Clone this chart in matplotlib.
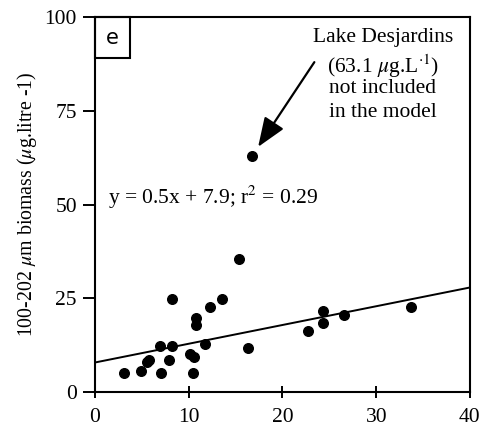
import matplotlib
matplotlib.use("Agg")
import matplotlib.pyplot as plt
from matplotlib.patches import Rectangle
import numpy as np

plt.rcParams['font.family'] = ['Liberation Serif', 'DejaVu Serif']
plt.rcParams['mathtext.fontset'] = 'stix'

# Lakes included in the regression
x_vals = [3.1, 4.9, 5.5, 5.8, 7.0, 6.9, 7.9, 8.2, 8.2, 10.1, 10.6, 10.4,
          10.8, 10.8, 11.7, 12.3, 13.5, 15.4, 16.3, 22.7, 24.3, 24.3, 26.6, 33.7]
y_vals = [5.0, 5.6, 7.9, 8.6, 5.0, 12.2, 8.6, 12.2, 24.9, 10.2, 9.3, 5.0,
          19.8, 18.0, 12.8, 22.8, 24.9, 35.4, 11.7, 16.4, 21.6, 18.4, 20.5, 22.7]

# Excluded lake
outlier_x = 16.8
outlier_y = 63.1

slope = 0.5
intercept = 7.9
r2 = 0.29

x_ticks = [0, 10, 20, 30, 40]
y_ticks = [0, 25, 50, 75, 100]

fig = plt.figure(figsize=(4.8, 4.29), dpi=100)
ax = fig.add_axes([0.198, 0.086, 0.781, 0.874])

ax.scatter(x_vals, y_vals, s=48, color='black', zorder=3)
ax.scatter([outlier_x], [outlier_y], s=48, color='black', zorder=3)

xl = np.array([0, 40])
ax.plot(xl, slope * xl + intercept, color='black', lw=1.4)

ax.set_xlim(0, 40)
ax.set_ylim(0, 100)
ax.set_xticks(x_ticks)
ax.set_yticks(y_ticks)
ax.tick_params(axis='x', direction='inout', length=9, width=1.4, labelsize=15.5, pad=7)
ax.tick_params(axis='y', direction='out', length=9, width=1.4, labelsize=15.5, pad=4)
for sp in ax.spines.values():
    sp.set_linewidth(1.5)

ax.set_ylabel(r'100-202 $\mu$m biomass ($\mu$g.litre -1)', fontsize=14.3, labelpad=4)

# panel letter box
ax.add_patch(Rectangle((0, 0.89), 0.094, 0.11, transform=ax.transAxes,
                       fill=False, lw=1.5, clip_on=False))
ax.text(0.047, 0.945, 'e', transform=ax.transAxes, ha='center', va='center',
        fontsize=15, family='DejaVu Sans')

ax.text(1.4, 52, f'y = {slope}x + {intercept}; r$^2$ = {r2}', fontsize=15.5,
        va='center', ha='left')

ax.text(30.7, 94.6, 'Lake Desjardins', fontsize=15.5, ha='center', va='center')
ax.text(30.7, 86.9, r'(63.1 $\mu$g.L$^{\cdot 1}$)', fontsize=15.5, ha='center', va='center')
ax.text(30.7, 80.9, 'not included', fontsize=15.5, ha='center', va='center')
ax.text(30.7, 74.7, 'in the model', fontsize=15.5, ha='center', va='center')

ax.annotate('', xy=(17.4, 65.4), xytext=(23.4, 88.0),
            arrowprops=dict(arrowstyle='-|>,head_length=1.8,head_width=0.7',
                            color='black', lw=1.6, shrinkA=0, shrinkB=0))

fig.savefig('out.png', dpi=100)
